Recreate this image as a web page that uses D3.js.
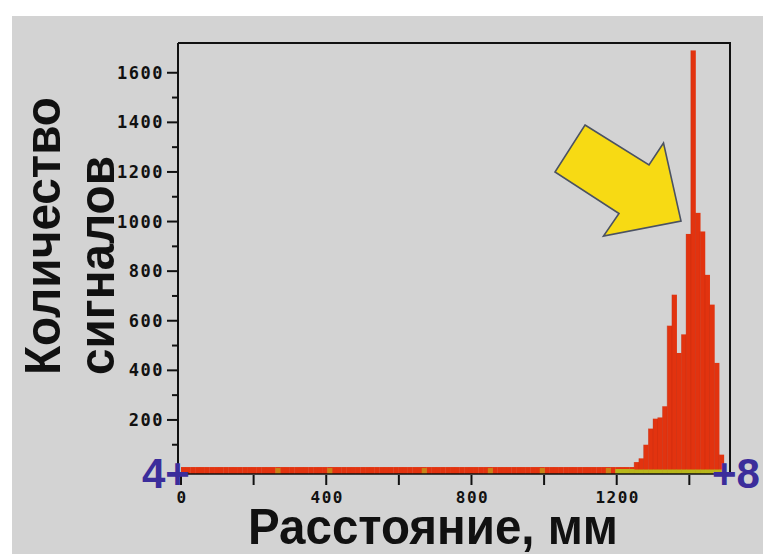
<!DOCTYPE html>
<html>
<head>
<meta charset="utf-8">
<script src="https://cdn.jsdelivr.net/npm/d3@7"></script>
<style>
  html, body { margin: 0; padding: 0; background: #ffffff; }
  svg { display: block; }
</style>
</head>
<body>
<svg id="chart" width="763" height="554"></svg>
<script>
// Histogram of signal counts over distance (mm), bins of 13 mm starting at 0.
const binWidthMm = 13;

// Counts per bin, bin i covers [i*13, i*13+13) mm.
const counts = [
  10, 10, 10, 10, 10, 10, 10, 10, 10, 10, 10, 10, 10, 10, 10, 10,
  10, 10, 10, 10, 10, 10, 10, 10, 10, 10, 10, 10, 10, 10, 10, 10,
  10, 10, 10, 10, 10, 10, 10, 10, 10, 10, 10, 10, 10, 10, 10, 10,
  10, 10, 10, 10, 10, 10, 10, 10, 10, 10, 10, 10, 10, 10, 10, 10,
  10, 10, 10, 10, 10, 10, 10, 10, 10, 10, 10, 10, 10, 10, 10, 10,
  10, 10, 10, 10, 10, 10, 10, 10, 10, 10, 10, 10, 10, 10, 10, 10,
  30, 45, 100, 165, 205, 210, 255, 580, 705, 470, 545, 950,
  1690, 1035, 960, 785, 665, 430, 60
];

// Second (yellow-green) series: bin index and count.
const accentBins   = [20, 31, 51, 65, 76, 90, 92, 93, 94, 95, 96, 97, 98, 99, 100, 101, 102, 103, 104, 105, 106, 107, 108, 109, 110, 111, 112, 113, 114];
const accentCounts = [ 6,  6,  6,  6,  6,  6,  2,  2,  2,  2,  0,  0,  0,  0,   0,   0,   0,   0,   0,   0,   0,   0,   0,   0,   0,   0,   0,   0,   0];

// Axis ticks
const yTicksMajor = [200, 400, 600, 800, 1000, 1200, 1400, 1600];
const yTicksMinor = [100, 300, 500, 700, 900, 1100, 1300, 1500];
const xTicks      = [0, 200, 400, 600, 800, 1000, 1200, 1400];
const xTickLabels = [0, 400, 800, 1200];

// Arrow pointing at the main peak (in pixel space of the plot)
const arrowPts = [[585,125],[649,165],[663.5,143],[681,221],[603.5,236],[619,213.5],[555,172]];

const svg = d3.select("#chart");
const W = 763, H = 554;

const plot = { left: 178, right: 730, top: 43, bottom: 474 };

const x = d3.scaleLinear().domain([0, 1512]).range([181, 730]);
const y = d3.scaleLinear().domain([-18, 1720]).range([plot.bottom, plot.top]);

// Background
svg.append("rect").attr("x", 0).attr("y", 0).attr("width", W).attr("height", H).attr("fill", "#ffffff");
svg.append("rect").attr("x", 12).attr("y", 16).attr("width", W - 12).attr("height", H - 16).attr("fill", "#d3d3d3");

// Main histogram bars
const bars = counts.map((c, i) => ({ x0: i * binWidthMm, x1: (i + 1) * binWidthMm, c }));
svg.append("g").selectAll("rect").data(bars).join("rect")
  .attr("x", d => x(d.x0))
  .attr("width", d => x(d.x1) - x(d.x0) + 0.3)
  .attr("y", d => y(d.c))
  .attr("height", d => plot.bottom - y(d.c))
  .attr("fill", "#e2330f");

// Thin separators between the tall bins
svg.append("g").selectAll("line").data(bars.filter(d => d.c > 20)).join("line")
  .attr("x1", d => x(d.x0)).attr("x2", d => x(d.x0))
  .attr("y1", d => y(d.c)).attr("y2", plot.bottom)
  .attr("stroke", "#b52a12").attr("stroke-width", 0.5).attr("opacity", 0.6);

// Accent series
const accent = accentBins.map((b, i) => ({ x0: b * binWidthMm, x1: (b + 1) * binWidthMm, c: accentCounts[i] }));
svg.append("g").selectAll("rect").data(accent).join("rect")
  .attr("x", d => x(d.x0))
  .attr("width", d => x(d.x1) - x(d.x0) + 0.3)
  .attr("y", d => y(d.c))
  .attr("height", d => plot.bottom - y(d.c))
  .attr("fill", "#b4c41c")
  .attr("opacity", d => d.c > 3 ? 0.55 : 0.9);

// Frame: top and right borders
svg.append("line").attr("x1", plot.left).attr("x2", plot.right + 1).attr("y1", plot.top).attr("y2", plot.top)
  .attr("stroke", "#111").attr("stroke-width", 2);
svg.append("line").attr("x1", plot.right).attr("x2", plot.right).attr("y1", plot.top).attr("y2", plot.bottom)
  .attr("stroke", "#111").attr("stroke-width", 2);

// Y axis
const tickFont = "'DejaVu Sans Mono', monospace";
const yAxisG = svg.append("g");
yAxisG.append("line").attr("x1", plot.left).attr("x2", plot.left).attr("y1", plot.top).attr("y2", plot.bottom)
  .attr("stroke", "#111").attr("stroke-width", 2);
yAxisG.selectAll("line.maj").data(yTicksMajor).join("line").attr("class", "maj")
  .attr("x1", plot.left - 11).attr("x2", plot.left).attr("y1", d => y(d)).attr("y2", d => y(d))
  .attr("stroke", "#111").attr("stroke-width", 2);
yAxisG.selectAll("line.min").data(yTicksMinor).join("line").attr("class", "min")
  .attr("x1", plot.left - 6).attr("x2", plot.left).attr("y1", d => y(d)).attr("y2", d => y(d))
  .attr("stroke", "#111").attr("stroke-width", 2);
yAxisG.selectAll("text").data(yTicksMajor).join("text")
  .attr("x", plot.left - 14).attr("y", d => y(d))
  .attr("dy", "0.36em")
  .attr("text-anchor", "end")
  .attr("font-family", tickFont).attr("font-weight", "bold").attr("font-size", 17)
  .attr("letter-spacing", 1.5)
  .attr("fill", "#111")
  .text(d => d);

// X axis
const xAxisG = svg.append("g");
xAxisG.append("line").attr("x1", plot.left).attr("x2", plot.right).attr("y1", plot.bottom).attr("y2", plot.bottom)
  .attr("stroke", "#111").attr("stroke-width", 1.5);
xAxisG.selectAll("line.tk").data(xTicks).join("line").attr("class", "tk")
  .attr("x1", d => x(d)).attr("x2", d => x(d)).attr("y1", plot.bottom + 1).attr("y2", plot.bottom + 11)
  .attr("stroke", "#111").attr("stroke-width", 2);
xAxisG.selectAll("text").data(xTickLabels).join("text")
  .attr("x", d => x(d) + 1).attr("y", 503)
  .attr("text-anchor", "middle")
  .attr("font-family", tickFont).attr("font-weight", "bold").attr("font-size", 16)
  .attr("letter-spacing", 1.5)
  .attr("fill", "#111")
  .text(d => d);

// Arrow
svg.append("polygon")
  .attr("points", arrowPts.map(p => p.join(",")).join(" "))
  .attr("fill", "#f7da14")
  .attr("stroke", "#4b5262")
  .attr("stroke-width", 1.6)
  .attr("stroke-linejoin", "miter");

// Range markers
const markFont = "'Liberation Sans', Arial, sans-serif";
svg.append("text").attr("x", 142).attr("y", 488)
  .attr("font-family", markFont).attr("font-weight", "bold").attr("font-size", 42)
  .attr("fill", "#3b2d9b").text("4+");
svg.append("text").attr("x", 712).attr("y", 488)
  .attr("font-family", markFont).attr("font-weight", "bold").attr("font-size", 42)
  .attr("fill", "#3b2d9b").text("+8");

// Axis titles
const titleFont = "'Liberation Sans', Arial, sans-serif";
svg.append("text")
  .attr("transform", "translate(60,375) rotate(-90)")
  .attr("font-family", titleFont).attr("font-weight", "bold").attr("font-size", 50)
  .attr("textLength", 278).attr("lengthAdjust", "spacingAndGlyphs")
  .attr("fill", "#111").text("Количество");
svg.append("text")
  .attr("transform", "translate(114,375) rotate(-90)")
  .attr("font-family", titleFont).attr("font-weight", "bold").attr("font-size", 50)
  .attr("textLength", 219).attr("lengthAdjust", "spacingAndGlyphs")
  .attr("fill", "#111").text("сигналов");
svg.append("text")
  .attr("x", 248).attr("y", 544)
  .attr("font-family", titleFont).attr("font-weight", "bold").attr("font-size", 50)
  .attr("textLength", 370).attr("lengthAdjust", "spacingAndGlyphs")
  .attr("fill", "#111").text("Расстояние, мм");
</script>
</body>
</html>
